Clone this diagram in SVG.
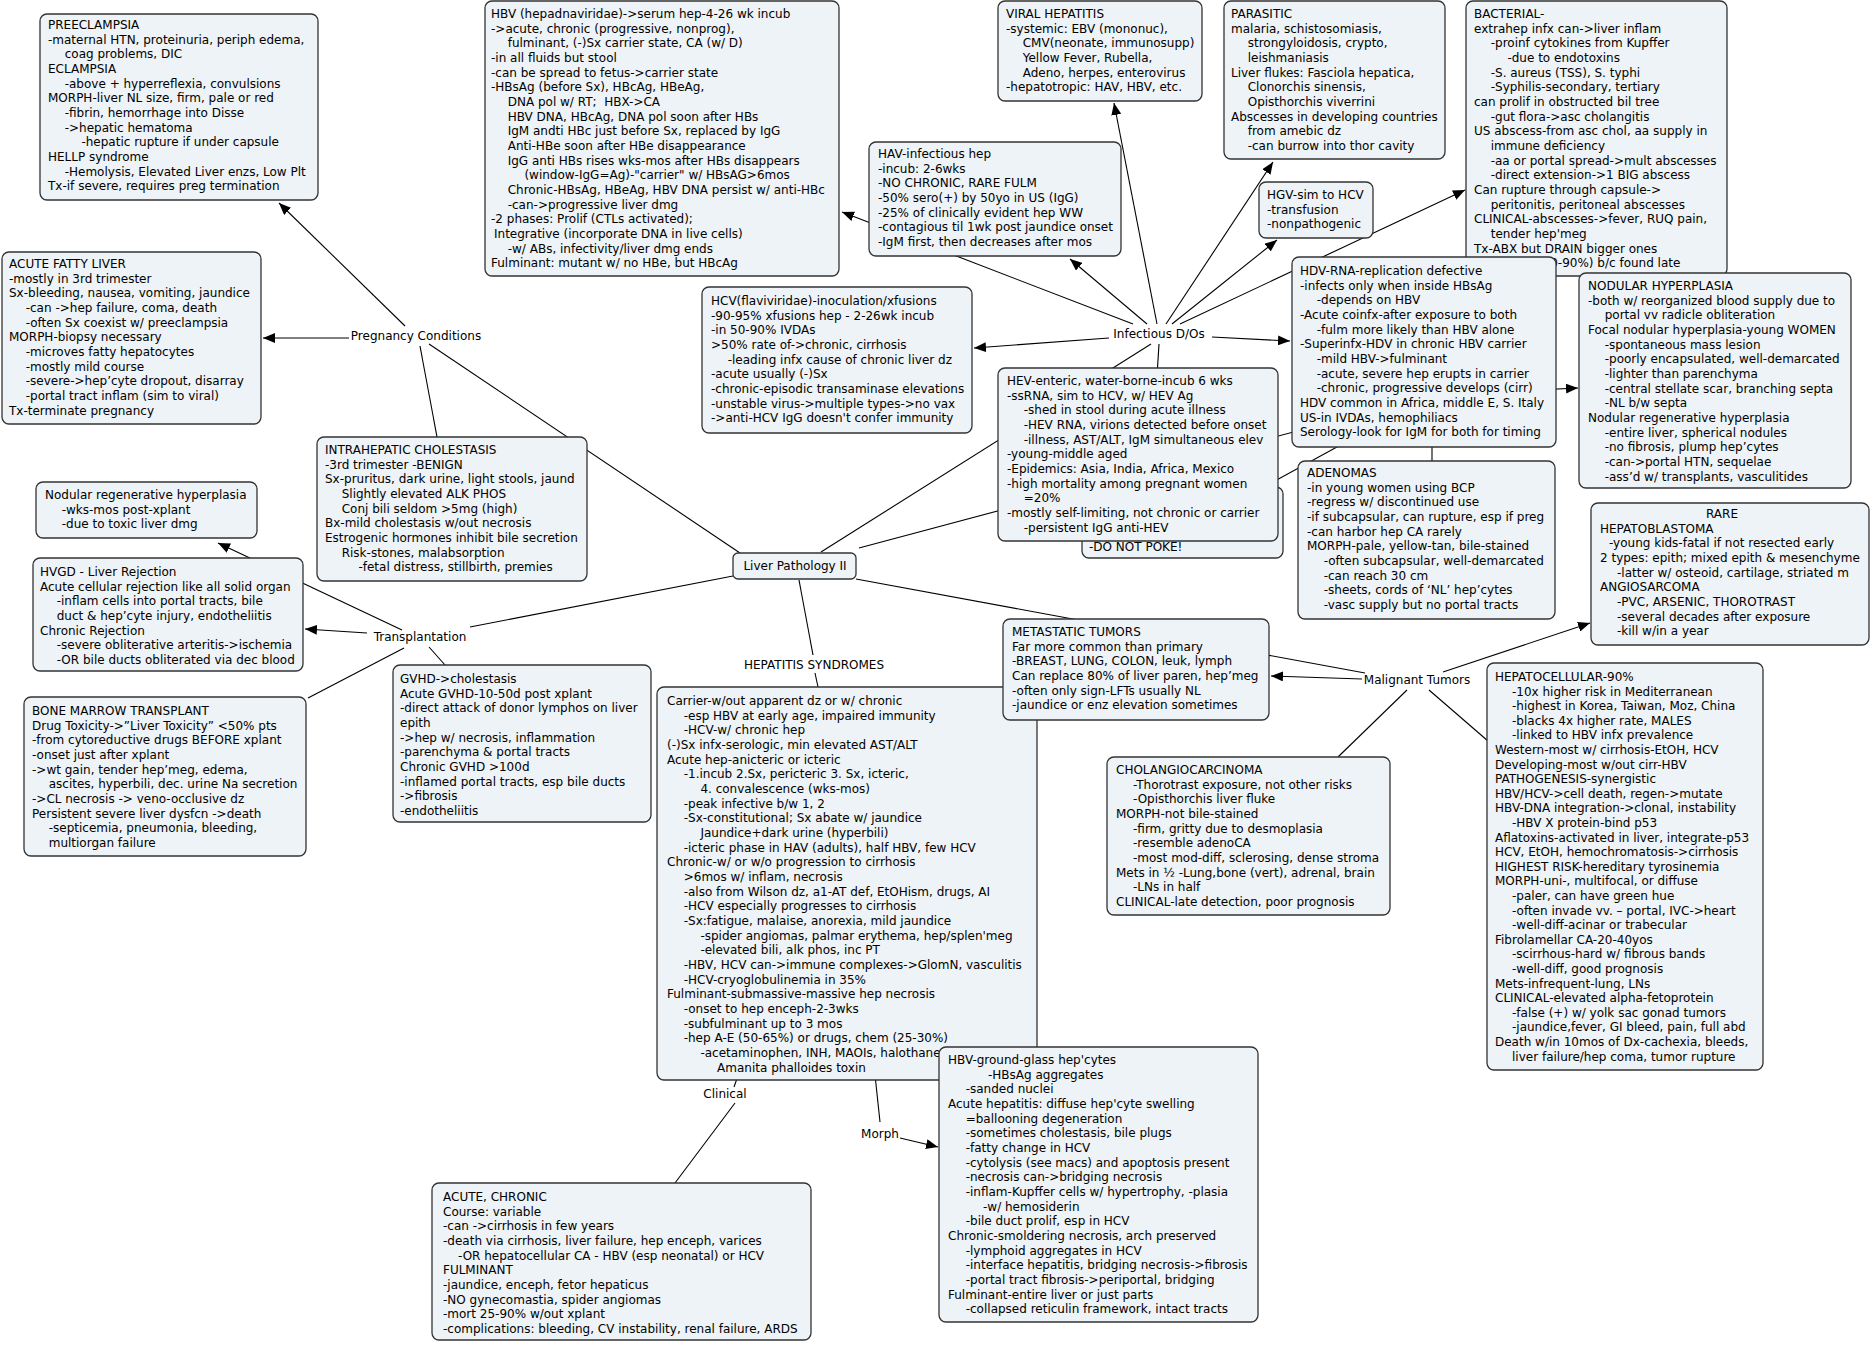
<svg xmlns="http://www.w3.org/2000/svg" width="1872" height="1345" viewBox="0 0 1872 1345">
<defs>
<marker id="ah" viewBox="0 0 12 10" refX="12" refY="5" markerWidth="12" markerHeight="10" markerUnits="userSpaceOnUse" orient="auto"><path d="M0,0 L12,5 L0,10 z" fill="#000"/></marker>
<style>
.box{fill:#edf3f6;stroke:#333;stroke-width:1.3}
text{font-family:"DejaVu Sans",Verdana,sans-serif;font-size:12px;fill:#000}
.lbl{text-anchor:middle}
.c line{stroke:#000;stroke-width:1.1;fill:none}
.c line.a{marker-end:url(#ah)}
</style>
</defs>
<rect width="1872" height="1345" fill="#fff"/>
<g id="connectors" class="c">
<line class="a" x1="405" y1="326" x2="279" y2="203"/>
<line class="a" x1="349" y1="338" x2="263" y2="338"/>
<line x1="420" y1="346" x2="437" y2="437"/>
<line x1="429" y1="344" x2="740" y2="553"/>
<line x1="470" y1="627" x2="733" y2="576"/>
<line class="a" x1="367" y1="633" x2="305" y2="629"/>
<line class="a" x1="402" y1="630" x2="218" y2="543"/>
<line x1="404" y1="648" x2="308" y2="698"/>
<line x1="429" y1="647" x2="445" y2="665"/>
<line x1="799" y1="580" x2="813" y2="655"/>
<line x1="815" y1="673" x2="818" y2="687"/>
<line x1="821" y1="552" x2="1151" y2="344"/>
<line x1="859" y1="548" x2="1432" y2="395"/>
<line x1="856" y1="579" x2="1365" y2="673"/>
<line class="a" x1="1133" y1="324" x2="842" y2="212"/>
<line class="a" x1="1147" y1="324" x2="1070" y2="259"/>
<line class="a" x1="1157" y1="324" x2="1114" y2="103"/>
<line class="a" x1="1166" y1="324" x2="1273" y2="162"/>
<line class="a" x1="1172" y1="324" x2="1277" y2="240"/>
<line class="a" x1="1180" y1="324" x2="1465" y2="190"/>
<line class="a" x1="1109" y1="338" x2="974" y2="348"/>
<line class="a" x1="1212" y1="337" x2="1290" y2="341"/>
<line x1="1159" y1="344" x2="1150" y2="487"/>
<line class="a" x1="1432" y1="395" x2="1578" y2="388"/>
<line x1="1432" y1="395" x2="1432" y2="461"/>
<line x1="1432" y1="395" x2="1200" y2="522"/>
<line class="a" x1="1362" y1="679" x2="1271" y2="676"/>
<line x1="1407" y1="690" x2="1338" y2="757"/>
<line x1="1429" y1="690" x2="1488" y2="741"/>
<line class="a" x1="1443" y1="672" x2="1590" y2="623"/>
<line x1="740" y1="1070" x2="734" y2="1087"/>
<line x1="735" y1="1103" x2="675" y2="1183"/>
<line x1="875" y1="1075" x2="880" y2="1122"/>
<line class="a" x1="900" y1="1138" x2="938" y2="1147"/>
</g>

<g id="preeclampsia"><rect class="box" x="40" y="14" width="278" height="186" rx="7"/>
<text><tspan x="48" y="29">PREECLAMPSIA</tspan><tspan x="48" dy="14.67">-maternal HTN, proteinuria, periph edema,</tspan><tspan x="64.7" dy="14.67">coag problems, DIC</tspan><tspan x="48" dy="14.67">ECLAMPSIA</tspan><tspan x="64.7" dy="14.67">-above + hyperreflexia, convulsions</tspan><tspan x="48" dy="14.67">MORPH-liver NL size, firm, pale or red</tspan><tspan x="64.7" dy="14.67">-fibrin, hemorrhage into Disse</tspan><tspan x="64.7" dy="14.67">-&gt;hepatic hematoma</tspan><tspan x="81.4" dy="14.67">-hepatic rupture if under capsule</tspan><tspan x="48" dy="14.67">HELLP syndrome</tspan><tspan x="64.7" dy="14.67">-Hemolysis, Elevated Liver enzs, Low Plt</tspan><tspan x="48" dy="14.67">Tx-if severe, requires preg termination</tspan></text></g>

<g id="acute-fatty-liver"><rect class="box" x="2" y="252" width="259" height="172" rx="7"/>
<text><tspan x="9" y="268">ACUTE FATTY LIVER</tspan><tspan x="9" dy="14.67">-mostly in 3rd trimester</tspan><tspan x="9" dy="14.67">Sx-bleeding, nausea, vomiting, jaundice</tspan><tspan x="25.7" dy="14.67">-can -&gt;hep failure, coma, death</tspan><tspan x="25.7" dy="14.67">-often Sx coexist w/ preeclampsia</tspan><tspan x="9" dy="14.67">MORPH-biopsy necessary</tspan><tspan x="25.7" dy="14.67">-microves fatty hepatocytes</tspan><tspan x="25.7" dy="14.67">-mostly mild course</tspan><tspan x="25.7" dy="14.67">-severe-&gt;hep’cyte dropout, disarray</tspan><tspan x="25.7" dy="14.67">-portal tract inflam (sim to viral)</tspan><tspan x="9" dy="14.67">Tx-terminate pregnancy</tspan></text></g>

<g id="pregnancy-conditions"><text class="lbl" x="416" y="340">Pregnancy Conditions</text></g>

<g id="hbv"><rect class="box" x="485" y="1" width="354" height="275" rx="7"/>
<text><tspan x="491" y="18">HBV (hepadnaviridae)-&gt;serum hep-4-26 wk incub</tspan><tspan x="491" dy="14.67">-&gt;acute, chronic (progressive, nonprog),</tspan><tspan x="507.7" dy="14.67">fulminant, (-)Sx carrier state, CA (w/ D)</tspan><tspan x="491" dy="14.67">-in all fluids but stool</tspan><tspan x="491" dy="14.67">-can be spread to fetus-&gt;carrier state</tspan><tspan x="491" dy="14.67">-HBsAg (before Sx), HBcAg, HBeAg,</tspan><tspan x="507.7" dy="14.67">DNA pol w/ RT;&#160; HBX-&gt;CA</tspan><tspan x="507.7" dy="14.67">HBV DNA, HBcAg, DNA pol soon after HBs</tspan><tspan x="507.7" dy="14.67">IgM andti HBc just before Sx, replaced by IgG</tspan><tspan x="507.7" dy="14.67">Anti-HBe soon after HBe disappearance</tspan><tspan x="507.7" dy="14.67">IgG anti HBs rises wks-mos after HBs disappears</tspan><tspan x="524.4" dy="14.67">(window-IgG=Ag)-"carrier" w/ HBsAG&gt;6mos</tspan><tspan x="507.7" dy="14.67">Chronic-HBsAg, HBeAg, HBV DNA persist w/ anti-HBc</tspan><tspan x="507.7" dy="14.67">-can-&gt;progressive liver dmg</tspan><tspan x="491" dy="14.67">-2 phases: Prolif (CTLs activated);</tspan><tspan x="494" dy="14.67">Integrative (incorporate DNA in live cells)</tspan><tspan x="507.7" dy="14.67">-w/ ABs, infectivity/liver dmg ends</tspan><tspan x="491" dy="14.67">Fulminant: mutant w/ no HBe, but HBcAg</tspan></text></g>

<g id="viral-hepatitis"><rect class="box" x="998" y="1" width="204" height="100" rx="7"/>
<text><tspan x="1006" y="18">VIRAL HEPATITIS</tspan><tspan x="1006" dy="14.67">-systemic: EBV (mononuc),</tspan><tspan x="1022.7" dy="14.67">CMV(neonate, immunosupp)</tspan><tspan x="1022.7" dy="14.67">Yellow Fever, Rubella,</tspan><tspan x="1022.7" dy="14.67">Adeno, herpes, enterovirus</tspan><tspan x="1006" dy="14.67">-hepatotropic: HAV, HBV, etc.</tspan></text></g>

<g id="parasitic"><rect class="box" x="1224" y="1" width="221" height="158" rx="7"/>
<text><tspan x="1231" y="18">PARASITIC</tspan><tspan x="1231" dy="14.67">malaria, schistosomiasis,</tspan><tspan x="1247.7" dy="14.67">strongyloidosis, crypto,</tspan><tspan x="1247.7" dy="14.67">leishmaniasis</tspan><tspan x="1231" dy="14.67">Liver flukes: Fasciola hepatica,</tspan><tspan x="1247.7" dy="14.67">Clonorchis sinensis,</tspan><tspan x="1247.7" dy="14.67">Opisthorchis viverrini</tspan><tspan x="1231" dy="14.67">Abscesses in developing countries</tspan><tspan x="1247.7" dy="14.67">from amebic dz</tspan><tspan x="1247.7" dy="14.67">-can burrow into thor cavity</tspan></text></g>

<g id="hav"><rect class="box" x="869" y="142" width="252" height="114" rx="7"/>
<text><tspan x="878" y="158">HAV-infectious hep</tspan><tspan x="878" dy="14.67">-incub: 2-6wks</tspan><tspan x="878" dy="14.67">-NO CHRONIC, RARE FULM</tspan><tspan x="878" dy="14.67">-50% sero(+) by 50yo in US (IgG)</tspan><tspan x="878" dy="14.67">-25% of clinically evident hep WW</tspan><tspan x="878" dy="14.67">-contagious til 1wk post jaundice onset</tspan><tspan x="878" dy="14.67">-IgM first, then decreases after mos</tspan></text></g>

<g id="hgv"><rect class="box" x="1259" y="182" width="114" height="56" rx="7"/>
<text><tspan x="1267" y="199">HGV-sim to HCV</tspan><tspan x="1267" dy="14.67">-transfusion</tspan><tspan x="1267" dy="14.67">-nonpathogenic</tspan></text></g>

<g id="bacterial"><rect class="box" x="1466" y="1" width="261" height="275" rx="7"/>
<text><tspan x="1474" y="18">BACTERIAL-</tspan><tspan x="1474" dy="14.67">extrahep infx can-&gt;liver inflam</tspan><tspan x="1490.7" dy="14.67">-proinf cytokines from Kupffer</tspan><tspan x="1507.4" dy="14.67">-due to endotoxins</tspan><tspan x="1490.7" dy="14.67">-S. aureus (TSS), S. typhi</tspan><tspan x="1490.7" dy="14.67">-Syphilis-secondary, tertiary</tspan><tspan x="1474" dy="14.67">can prolif in obstructed bil tree</tspan><tspan x="1490.7" dy="14.67">-gut flora-&gt;asc cholangitis</tspan><tspan x="1474" dy="14.67">US abscess-from asc chol, aa supply in</tspan><tspan x="1490.7" dy="14.67">immune deficiency</tspan><tspan x="1490.7" dy="14.67">-aa or portal spread-&gt;mult abscesses</tspan><tspan x="1490.7" dy="14.67">-direct extension-&gt;1 BIG abscess</tspan><tspan x="1474" dy="14.67">Can rupture through capsule-&gt;</tspan><tspan x="1490.7" dy="14.67">peritonitis, peritoneal abscesses</tspan><tspan x="1474" dy="14.67">CLINICAL-abscesses-&gt;fever, RUQ pain,</tspan><tspan x="1490.7" dy="14.67">tender hep'meg</tspan><tspan x="1474" dy="14.67">Tx-ABX but DRAIN bigger ones</tspan><tspan x="1474" dy="14.67">High mort (80-90%) b/c found late</tspan></text></g>

<g id="nodular-hyperplasia"><rect class="box" x="1579" y="273" width="272" height="215" rx="7"/>
<text><tspan x="1588" y="290">NODULAR HYPERPLASIA</tspan><tspan x="1588" dy="14.67">-both w/ reorganized blood supply due to</tspan><tspan x="1604.7" dy="14.67">portal vv radicle obliteration</tspan><tspan x="1588" dy="14.67">Focal nodular hyperplasia-young WOMEN</tspan><tspan x="1604.7" dy="14.67">-spontaneous mass lesion</tspan><tspan x="1604.7" dy="14.67">-poorly encapsulated, well-demarcated</tspan><tspan x="1604.7" dy="14.67">-lighter than parenchyma</tspan><tspan x="1604.7" dy="14.67">-central stellate scar, branching septa</tspan><tspan x="1604.7" dy="14.67">-NL b/w septa</tspan><tspan x="1588" dy="14.67">Nodular regenerative hyperplasia</tspan><tspan x="1604.7" dy="14.67">-entire liver, spherical nodules</tspan><tspan x="1604.7" dy="14.67">-no fibrosis, plump hep’cytes</tspan><tspan x="1604.7" dy="14.67">-can-&gt;portal HTN, sequelae</tspan><tspan x="1604.7" dy="14.67">-ass’d w/ transplants, vasculitides</tspan></text></g>

<g id="hcv"><rect class="box" x="702" y="287" width="270" height="146" rx="7"/>
<text><tspan x="711" y="305">HCV(flaviviridae)-inoculation/xfusions</tspan><tspan x="711" dy="14.67">-90-95% xfusions hep - 2-26wk incub</tspan><tspan x="711" dy="14.67">-in 50-90% IVDAs</tspan><tspan x="711" dy="14.67">&gt;50% rate of-&gt;chronic, cirrhosis</tspan><tspan x="727.7" dy="14.67">-leading infx cause of chronic liver dz</tspan><tspan x="711" dy="14.67">-acute usually (-)Sx</tspan><tspan x="711" dy="14.67">-chronic-episodic transaminase elevations</tspan><tspan x="711" dy="14.67">-unstable virus-&gt;multiple types-&gt;no vax</tspan><tspan x="711" dy="14.67">-&gt;anti-HCV IgG doesn't confer immunity</tspan></text></g>

<g id="do-not-poke"><rect class="box" x="1082" y="487" width="201" height="71" rx="7"/>
<text><tspan x="1089" y="551">-DO NOT POKE!</tspan></text></g>

<g id="hev"><rect class="box" x="998" y="368" width="280" height="173" rx="7"/>
<text><tspan x="1007" y="385">HEV-enteric, water-borne-incub 6 wks</tspan><tspan x="1007" dy="14.67">-ssRNA, sim to HCV, w/ HEV Ag</tspan><tspan x="1023.7" dy="14.67">-shed in stool during acute illness</tspan><tspan x="1023.7" dy="14.67">-HEV RNA, virions detected before onset</tspan><tspan x="1023.7" dy="14.67">-illness, AST/ALT, IgM simultaneous elev</tspan><tspan x="1007" dy="14.67">-young-middle aged</tspan><tspan x="1007" dy="14.67">-Epidemics: Asia, India, Africa, Mexico</tspan><tspan x="1007" dy="14.67">-high mortality among pregnant women</tspan><tspan x="1023.7" dy="14.67">=20%</tspan><tspan x="1007" dy="14.67">-mostly self-limiting, not chronic or carrier</tspan><tspan x="1023.7" dy="14.67">-persistent IgG anti-HEV</tspan></text></g>

<g id="hdv"><rect class="box" x="1292" y="257" width="264" height="190" rx="7"/>
<text><tspan x="1300" y="275">HDV-RNA-replication defective</tspan><tspan x="1300" dy="14.67">-infects only when inside HBsAg</tspan><tspan x="1316.7" dy="14.67">-depends on HBV</tspan><tspan x="1300" dy="14.67">-Acute coinfx-after exposure to both</tspan><tspan x="1316.7" dy="14.67">-fulm more likely than HBV alone</tspan><tspan x="1300" dy="14.67">-Superinfx-HDV in chronic HBV carrier</tspan><tspan x="1316.7" dy="14.67">-mild HBV-&gt;fulminant</tspan><tspan x="1316.7" dy="14.67">-acute, severe hep erupts in carrier</tspan><tspan x="1316.7" dy="14.67">-chronic, progressive develops (cirr)</tspan><tspan x="1300" dy="14.67">HDV common in Africa, middle E, S. Italy</tspan><tspan x="1300" dy="14.67">US-in IVDAs, hemophiliacs</tspan><tspan x="1300" dy="14.67">Serology-look for IgM for both for timing</tspan></text></g>

<g id="infectious-dos"><text class="lbl" x="1159" y="338">Infectious D/Os</text></g>

<g id="adenomas"><rect class="box" x="1298" y="461" width="257" height="158" rx="7"/>
<text><tspan x="1307" y="477">ADENOMAS</tspan><tspan x="1307" dy="14.67">-in young women using BCP</tspan><tspan x="1307" dy="14.67">-regress w/ discontinued use</tspan><tspan x="1307" dy="14.67">-if subcapsular, can rupture, esp if preg</tspan><tspan x="1307" dy="14.67">-can harbor hep CA rarely</tspan><tspan x="1307" dy="14.67">MORPH-pale, yellow-tan, bile-stained</tspan><tspan x="1323.7" dy="14.67">-often subcapsular, well-demarcated</tspan><tspan x="1323.7" dy="14.67">-can reach 30 cm</tspan><tspan x="1323.7" dy="14.67">-sheets, cords of ‘NL’ hep’cytes</tspan><tspan x="1323.7" dy="14.67">-vasc supply but no portal tracts</tspan></text></g>

<g id="rare"><rect class="box" x="1591" y="503" width="278" height="142" rx="7"/>
<text><tspan class="lbl" x="1722" y="518">RARE</tspan><tspan x="1600" dy="14.67">HEPATOBLASTOMA</tspan><tspan x="1609" dy="14.67">-young kids-fatal if not resected early</tspan><tspan x="1600" dy="14.67">2 types: epith; mixed epith &amp; mesenchyme</tspan><tspan x="1617" dy="14.67">-latter w/ osteoid, cartilage, striated m</tspan><tspan x="1600" dy="14.67">ANGIOSARCOMA</tspan><tspan x="1617" dy="14.67">-PVC, ARSENIC, THOROTRAST</tspan><tspan x="1617" dy="14.67">-several decades after exposure</tspan><tspan x="1617" dy="14.67">-kill w/in a year</tspan></text></g>

<g id="hepatocellular"><rect class="box" x="1487" y="663" width="276" height="407" rx="7"/>
<text><tspan x="1495" y="681">HEPATOCELLULAR-90%</tspan><tspan x="1512" dy="14.6">-10x higher risk in Mediterranean</tspan><tspan x="1512" dy="14.6">-highest in Korea, Taiwan, Moz, China</tspan><tspan x="1512" dy="14.6">-blacks 4x higher rate, MALES</tspan><tspan x="1512" dy="14.6">-linked to HBV infx prevalence</tspan><tspan x="1495" dy="14.6">Western-most w/ cirrhosis-EtOH, HCV</tspan><tspan x="1495" dy="14.6">Developing-most w/out cirr-HBV</tspan><tspan x="1495" dy="14.6">PATHOGENESIS-synergistic</tspan><tspan x="1495" dy="14.6">HBV/HCV-&gt;cell death, regen-&gt;mutate</tspan><tspan x="1495" dy="14.6">HBV-DNA integration-&gt;clonal, instability</tspan><tspan x="1512" dy="14.6">-HBV X protein-bind p53</tspan><tspan x="1495" dy="14.6">Aflatoxins-activated in liver, integrate-p53</tspan><tspan x="1495" dy="14.6">HCV, EtOH, hemochromatosis-&gt;cirrhosis</tspan><tspan x="1495" dy="14.6">HIGHEST RISK-hereditary tyrosinemia</tspan><tspan x="1495" dy="14.6">MORPH-uni-, multifocal, or diffuse</tspan><tspan x="1512" dy="14.6">-paler, can have green hue</tspan><tspan x="1512" dy="14.6">-often invade vv. – portal, IVC-&gt;heart</tspan><tspan x="1512" dy="14.6">-well-diff-acinar or trabecular</tspan><tspan x="1495" dy="14.6">Fibrolamellar CA-20-40yos</tspan><tspan x="1512" dy="14.6">-scirrhous-hard w/ fibrous bands</tspan><tspan x="1512" dy="14.6">-well-diff, good prognosis</tspan><tspan x="1495" dy="14.6">Mets-infrequent-lung, LNs</tspan><tspan x="1495" dy="14.6">CLINICAL-elevated alpha-fetoprotein</tspan><tspan x="1512" dy="14.6">-false (+) w/ yolk sac gonad tumors</tspan><tspan x="1512" dy="14.6">-jaundice,fever, GI bleed, pain, full abd</tspan><tspan x="1495" dy="14.6">Death w/in 10mos of Dx-cachexia, bleeds,</tspan><tspan x="1512" dy="14.6">liver failure/hep coma, tumor rupture</tspan></text></g>

<g id="malignant-tumors"><text class="lbl" x="1417" y="684">Malignant Tumors</text></g>

<g id="cholangiocarcinoma"><rect class="box" x="1107" y="757" width="283" height="158" rx="7"/>
<text><tspan x="1116" y="774">CHOLANGIOCARCINOMA</tspan><tspan x="1133" dy="14.67">-Thorotrast exposure, not other risks</tspan><tspan x="1133" dy="14.67">-Opisthorchis liver fluke</tspan><tspan x="1116" dy="14.67">MORPH-not bile-stained</tspan><tspan x="1133" dy="14.67">-firm, gritty due to desmoplasia</tspan><tspan x="1133" dy="14.67">-resemble adenoCA</tspan><tspan x="1133" dy="14.67">-most mod-diff, sclerosing, dense stroma</tspan><tspan x="1116" dy="14.67">Mets in ½ -Lung,bone (vert), adrenal, brain</tspan><tspan x="1133" dy="14.67">-LNs in half</tspan><tspan x="1116" dy="14.67">CLINICAL-late detection, poor prognosis</tspan></text></g>

<g id="liver-pathology-ii"><rect class="box" x="733" y="553" width="123" height="26" rx="5"/>
<text class="lbl" x="795" y="570">Liver Pathology II</text></g>

<g id="intrahepatic-cholestasis"><rect class="box" x="317" y="437" width="270" height="144" rx="7"/>
<text><tspan x="325" y="454">INTRAHEPATIC CHOLESTASIS</tspan><tspan x="325" dy="14.67">-3rd trimester -BENIGN</tspan><tspan x="325" dy="14.67">Sx-pruritus, dark urine, light stools, jaund</tspan><tspan x="341.7" dy="14.67">Slightly elevated ALK PHOS</tspan><tspan x="341.7" dy="14.67">Conj bili seldom &gt;5mg (high)</tspan><tspan x="325" dy="14.67">Bx-mild cholestasis w/out necrosis</tspan><tspan x="325" dy="14.67">Estrogenic hormones inhibit bile secretion</tspan><tspan x="341.7" dy="14.67">Risk-stones, malabsorption</tspan><tspan x="358.4" dy="14.67">-fetal distress, stillbirth, premies</tspan></text></g>

<g id="nodular-regenerative"><rect class="box" x="36" y="482" width="221" height="56" rx="7"/>
<text><tspan x="45" y="499">Nodular regenerative hyperplasia</tspan><tspan x="61.7" dy="14.67">-wks-mos post-xplant</tspan><tspan x="61.7" dy="14.67">-due to toxic liver dmg</tspan></text></g>

<g id="hvgd"><rect class="box" x="33" y="558" width="270" height="113" rx="7"/>
<text><tspan x="40" y="576">HVGD - Liver Rejection</tspan><tspan x="40" dy="14.67">Acute cellular rejection like all solid organ</tspan><tspan x="56.7" dy="14.67">-inflam cells into portal tracts, bile</tspan><tspan x="56.7" dy="14.67">duct &amp; hep’cyte injury, endotheliitis</tspan><tspan x="40" dy="14.67">Chronic Rejection</tspan><tspan x="56.7" dy="14.67">-severe obliterative arteritis-&gt;ischemia</tspan><tspan x="56.7" dy="14.67">-OR bile ducts obliterated via dec blood</tspan></text></g>

<g id="transplantation"><text class="lbl" x="420" y="641">Transplantation</text></g>

<g id="bone-marrow-transplant"><rect class="box" x="24" y="697" width="282" height="159" rx="7"/>
<text><tspan x="32" y="715">BONE MARROW TRANSPLANT</tspan><tspan x="32" dy="14.67">Drug Toxicity-&gt;”Liver Toxicity” &lt;50% pts</tspan><tspan x="32" dy="14.67">-from cytoreductive drugs BEFORE xplant</tspan><tspan x="32" dy="14.67">-onset just after xplant</tspan><tspan x="32" dy="14.67">-&gt;wt gain, tender hep’meg, edema,</tspan><tspan x="48.7" dy="14.67">ascites, hyperbili, dec. urine Na secretion</tspan><tspan x="32" dy="14.67">-&gt;CL necrosis -&gt; veno-occlusive dz</tspan><tspan x="32" dy="14.67">Persistent severe liver dysfcn -&gt;death</tspan><tspan x="48.7" dy="14.67">-septicemia, pneumonia, bleeding,</tspan><tspan x="48.7" dy="14.67">multiorgan failure</tspan></text></g>

<g id="gvhd"><rect class="box" x="393" y="665" width="258" height="157" rx="7"/>
<text><tspan x="400" y="683">GVHD-&gt;cholestasis</tspan><tspan x="400" dy="14.67">Acute GVHD-10-50d post xplant</tspan><tspan x="400" dy="14.67">-direct attack of donor lymphos on liver</tspan><tspan x="400" dy="14.67">epith</tspan><tspan x="400" dy="14.67">-&gt;hep w/ necrosis, inflammation</tspan><tspan x="400" dy="14.67">-parenchyma &amp; portal tracts</tspan><tspan x="400" dy="14.67">Chronic GVHD &gt;100d</tspan><tspan x="400" dy="14.67">-inflamed portal tracts, esp bile ducts</tspan><tspan x="400" dy="14.67">-&gt;fibrosis</tspan><tspan x="400" dy="14.67">-endotheliitis</tspan></text></g>

<g id="hepatitis-syndromes-label"><text class="lbl" x="814" y="669">HEPATITIS SYNDROMES</text></g>

<g id="hepatitis-syndromes"><rect class="box" x="657" y="687" width="380" height="393" rx="7"/>
<text><tspan x="667" y="705">Carrier-w/out apparent dz or w/ chronic</tspan><tspan x="683.7" dy="14.67">-esp HBV at early age, impaired immunity</tspan><tspan x="683.7" dy="14.67">-HCV-w/ chronic hep</tspan><tspan x="667" dy="14.67">(-)Sx infx-serologic, min elevated AST/ALT</tspan><tspan x="667" dy="14.67">Acute hep-anicteric or icteric</tspan><tspan x="683.7" dy="14.67">-1.incub 2.Sx, pericteric 3. Sx, icteric,</tspan><tspan x="700.4" dy="14.67">4. convalescence (wks-mos)</tspan><tspan x="683.7" dy="14.67">-peak infective b/w 1, 2</tspan><tspan x="683.7" dy="14.67">-Sx-constitutional; Sx abate w/ jaundice</tspan><tspan x="700.4" dy="14.67">Jaundice+dark urine (hyperbili)</tspan><tspan x="683.7" dy="14.67">-icteric phase in HAV (adults), half HBV, few HCV</tspan><tspan x="667" dy="14.67">Chronic-w/ or w/o progression to cirrhosis</tspan><tspan x="683.7" dy="14.67">&gt;6mos w/ inflam, necrosis</tspan><tspan x="683.7" dy="14.67">-also from Wilson dz, a1-AT def, EtOHism, drugs, AI</tspan><tspan x="683.7" dy="14.67">-HCV especially progresses to cirrhosis</tspan><tspan x="683.7" dy="14.67">-Sx:fatigue, malaise, anorexia, mild jaundice</tspan><tspan x="700.4" dy="14.67">-spider angiomas, palmar erythema, hep/splen'meg</tspan><tspan x="700.4" dy="14.67">-elevated bili, alk phos, inc PT</tspan><tspan x="683.7" dy="14.67">-HBV, HCV can-&gt;immune complexes-&gt;GlomN, vasculitis</tspan><tspan x="683.7" dy="14.67">-HCV-cryoglobulinemia in 35%</tspan><tspan x="667" dy="14.67">Fulminant-submassive-massive hep necrosis</tspan><tspan x="683.7" dy="14.67">-onset to hep enceph-2-3wks</tspan><tspan x="683.7" dy="14.67">-subfulminant up to 3 mos</tspan><tspan x="683.7" dy="14.67">-hep A-E (50-65%) or drugs, chem (25-30%)</tspan><tspan x="700.4" dy="14.67">-acetaminophen, INH, MAOIs, halothane,</tspan><tspan x="717.1" dy="14.67">Amanita phalloides toxin</tspan></text></g>

<g id="metastatic"><rect class="box" x="1003" y="619" width="266" height="101" rx="7"/>
<text><tspan x="1012" y="636">METASTATIC TUMORS</tspan><tspan x="1012" dy="14.67">Far more common than primary</tspan><tspan x="1012" dy="14.67">-BREAST, LUNG, COLON, leuk, lymph</tspan><tspan x="1012" dy="14.67">Can replace 80% of liver paren, hep’meg</tspan><tspan x="1012" dy="14.67">-often only sign-LFTs usually NL</tspan><tspan x="1012" dy="14.67">-jaundice or enz elevation sometimes</tspan></text></g>

<g id="clinical"><text class="lbl" x="725" y="1098">Clinical</text></g>
<g id="morph"><text class="lbl" x="880" y="1138">Morph</text></g>

<g id="morph-box"><rect class="box" x="939" y="1047" width="319" height="275" rx="7"/>
<text><tspan x="948" y="1064">HBV-ground-glass hep'cytes</tspan><tspan x="988" dy="14.67">-HBsAg aggregates</tspan><tspan x="965.7" dy="14.67">-sanded nuclei</tspan><tspan x="948" dy="14.67">Acute hepatitis: diffuse hep'cyte swelling</tspan><tspan x="965.7" dy="14.67">=ballooning degeneration</tspan><tspan x="965.7" dy="14.67">-sometimes cholestasis, bile plugs</tspan><tspan x="965.7" dy="14.67">-fatty change in HCV</tspan><tspan x="965.7" dy="14.67">-cytolysis (see macs) and apoptosis present</tspan><tspan x="965.7" dy="14.67">-necrosis can-&gt;bridging necrosis</tspan><tspan x="965.7" dy="14.67">-inflam-Kupffer cells w/ hypertrophy, -plasia</tspan><tspan x="983" dy="14.67">-w/ hemosiderin</tspan><tspan x="965.7" dy="14.67">-bile duct prolif, esp in HCV</tspan><tspan x="948" dy="14.67">Chronic-smoldering necrosis, arch preserved</tspan><tspan x="965.7" dy="14.67">-lymphoid aggregates in HCV</tspan><tspan x="965.7" dy="14.67">-interface hepatitis, bridging necrosis-&gt;fibrosis</tspan><tspan x="965.7" dy="14.67">-portal tract fibrosis-&gt;periportal, bridging</tspan><tspan x="948" dy="14.67">Fulminant-entire liver or just parts</tspan><tspan x="965.7" dy="14.67">-collapsed reticulin framework, intact tracts</tspan></text></g>

<g id="acute-chronic"><rect class="box" x="432" y="1183" width="379" height="157" rx="7"/>
<text><tspan x="443" y="1201">ACUTE, CHRONIC</tspan><tspan x="443" dy="14.67">Course: variable</tspan><tspan x="443" dy="14.67">-can -&gt;cirrhosis in few years</tspan><tspan x="443" dy="14.67">-death via cirrhosis, liver failure, hep enceph, varices</tspan><tspan x="458" dy="14.67">-OR hepatocellular CA - HBV (esp neonatal) or HCV</tspan><tspan x="443" dy="14.67">FULMINANT</tspan><tspan x="443" dy="14.67">-jaundice, enceph, fetor hepaticus</tspan><tspan x="443" dy="14.67">-NO gynecomastia, spider angiomas</tspan><tspan x="443" dy="14.67">-mort 25-90% w/out xplant</tspan><tspan x="443" dy="14.67">-complications: bleeding, CV instability, renal failure, ARDS</tspan></text></g>
</svg>
